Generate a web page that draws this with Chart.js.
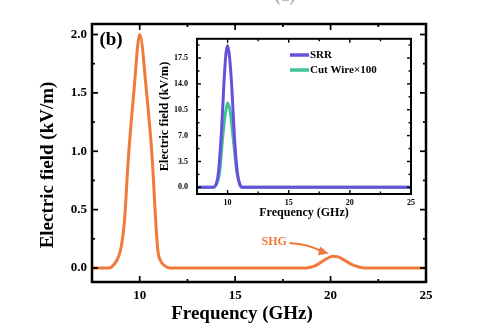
<!DOCTYPE html>
<html>
<head>
<meta charset="utf-8">
<script src="https://cdn.jsdelivr.net/npm/chart.js@4.4.0/dist/chart.umd.min.js"></script>
<style>
body{margin:0;background:#fff}
#wrap{position:relative;width:478px;height:323px;overflow:hidden;background:#fff}
#mainChart{position:absolute;left:0;top:0}
#insetChart{position:absolute;left:150px;top:25px}
</style>
</head>
<body>
<div id="wrap">
<canvas id="mainChart" width="478" height="323"></canvas>
<canvas id="insetChart" width="270" height="200"></canvas>
</div>
<script>
// main panel (b) : field vs frequency
const mainFreq  = [7.5, 8.4, 8.65, 8.9, 9.05, 9.2, 9.4, 9.7, 10.0, 10.35, 10.65, 10.85, 10.95, 11.1, 11.3, 11.6, 18.6, 18.9, 19.2, 19.5, 19.8, 20.1, 20.4, 20.7, 21.0, 21.3, 21.6, 21.9, 25];
const mainField = [0, 0, 0.03, 0.1, 0.2, 0.4, 0.93, 1.52, 2.0, 1.52, 0.95, 0.37, 0.15, 0.06, 0.02, 0, 0, 0.005, 0.02, 0.05, 0.08, 0.1, 0.095, 0.07, 0.04, 0.018, 0.005, 0, 0];

// inset : SRR and cut wire (x100)
const srrFreq  = [7.5, 8.8, 9.0, 9.25, 9.5, 9.7, 9.85, 10.0, 10.15, 10.33, 10.55, 10.8, 11.0, 11.2, 25];
const srrField = [0, 0, 0.2, 2.0, 7.5, 14.0, 17.8, 19.2, 17.8, 14.0, 7.1, 2.0, 0.4, 0, 0];
const cwFreq   = [7.5, 8.8, 9.0, 9.35, 9.62, 9.85, 10.0, 10.2, 10.43, 10.76, 11.0, 11.2, 25];
const cwField  = [0, 0, 0.2, 2.0, 7.1, 10.3, 11.4, 10.4, 7.1, 2.0, 0.4, 0, 0];

// ticks
const mainXTicks  = [10, 15, 20, 25];
const mainXMinor  = [12.5, 17.5, 22.5];
const mainYTicks  = [0, 0.5, 1.0, 1.5, 2.0];
const mainYMinor  = [0.25, 0.75, 1.25, 1.75];
const insetXTicks = [10, 15, 20, 25];
const insetXMinor = [12.5, 17.5, 22.5];
const insetYTicks = [0, 3.5, 7.0, 10.5, 14.0, 17.5];
const insetYMinor = [1.75, 5.25, 8.75, 12.25, 15.75, 19.25];

const serif = "'Liberation Serif', 'Times New Roman', serif";
const orange = '#ef7a3b';
const purple = '#6b4fdc';
const green  = '#3cc493';

function pts(xs, ys){ return xs.map((x, i) => ({x: x, y: ys[i]})); }

// frame + inward ticks on the 4 sides
function frameTicks(id, xMaj, xMin, yMaj, yMin, bigLen, smallLen, lw){
  return {
    id: id,
    beforeDatasetsDraw(chart){
      const a = chart.chartArea, ctx = chart.ctx;
      ctx.save();
      ctx.fillStyle = '#fff';
      ctx.fillRect(a.left, a.top, a.right - a.left, a.bottom - a.top);
      ctx.restore();
    },
    afterDatasetsDraw(chart){
      const ctx = chart.ctx, a = chart.chartArea;
      const xs = chart.scales.x, ys = chart.scales.y;
      ctx.save();
      ctx.strokeStyle = '#000';
      const line = (x1, y1, x2, y2) => { ctx.beginPath(); ctx.moveTo(x1, y1); ctx.lineTo(x2, y2); ctx.stroke(); };
      ctx.lineWidth = lw * 0.7;
      const doX = (vals, len) => vals.forEach(v => {
        const p = xs.getPixelForValue(v);
        line(p, a.bottom, p, a.bottom - len);
        line(p, a.top, p, a.top + len);
      });
      const doY = (vals, len) => vals.forEach(v => {
        const p = ys.getPixelForValue(v);
        line(a.left, p, a.left + len, p);
        line(a.right, p, a.right - len, p);
      });
      doX(xMaj, bigLen); doX(xMin, smallLen);
      doY(yMaj, bigLen); doY(yMin, smallLen);
      ctx.lineWidth = lw;
      ctx.strokeRect(a.left, a.top, a.right - a.left, a.bottom - a.top);
      ctx.restore();
    }
  };
}

// SHG label, arrow and panel letter
const shgLabel = {x: 17.05, y: 0.22};
const shgFrom  = {x: 17.85, y: 0.215};
const shgTip   = {x: 19.9, y: 0.125};

const mainNotes = {
  id: 'mainNotes',
  afterDraw(chart){
    const ctx = chart.ctx, a = chart.chartArea;
    const xs = chart.scales.x, ys = chart.scales.y;
    ctx.save();
    ctx.fillStyle = '#000';
    ctx.textAlign = 'center';
    ctx.textBaseline = 'middle';

    // axis titles (sit a little off the plot centre in the original)
    ctx.font = 'bold 19px ' + serif;
    ctx.fillText('Frequency (GHz)', 242, 314);
    ctx.save();
    ctx.translate(48, 165);
    ctx.rotate(-Math.PI / 2);
    ctx.fillText('Electric field (kV/m)', 0, 0);
    ctx.restore();

    ctx.font = 'bold 19px ' + serif;
    ctx.fillText('(b)', a.left + 19, a.top + 16);

    ctx.fillStyle = '#b5b5b5';
    ctx.font = 'bold 18px ' + serif;
    ctx.fillText('(a)', 285, -4);

    ctx.fillStyle = orange;
    ctx.font = 'bold 12px ' + serif;
    ctx.fillText('SHG', xs.getPixelForValue(shgLabel.x), ys.getPixelForValue(shgLabel.y));

    const x1 = xs.getPixelForValue(shgFrom.x), y1 = ys.getPixelForValue(shgFrom.y);
    const x2 = xs.getPixelForValue(shgTip.x),  y2 = ys.getPixelForValue(shgTip.y);
    const ang = Math.atan2(y2 - y1, x2 - x1);
    ctx.strokeStyle = orange;
    ctx.lineWidth = 2;
    ctx.beginPath();
    ctx.moveTo(x1, y1);
    ctx.quadraticCurveTo((x1 + x2) / 2, y1 + 1, x2 - 6 * Math.cos(ang), y2 - 6 * Math.sin(ang));
    ctx.stroke();
    ctx.beginPath();
    ctx.moveTo(x2, y2);
    ctx.lineTo(x2 - 10 * Math.cos(ang) + 4.5 * Math.sin(ang), y2 - 10 * Math.sin(ang) - 4.5 * Math.cos(ang));
    ctx.lineTo(x2 - 10 * Math.cos(ang) - 4.5 * Math.sin(ang), y2 - 10 * Math.sin(ang) + 4.5 * Math.cos(ang));
    ctx.closePath();
    ctx.fill();
    ctx.restore();
  }
};

const insetLegend = {
  id: 'insetLegend',
  afterDraw(chart){
    const ctx = chart.ctx;
    const items = [[purple, 'SRR'], [green, 'Cut Wire\u00d7100']];
    ctx.save();
    ctx.font = 'bold 11px ' + serif;
    ctx.textBaseline = 'middle';
    ctx.textAlign = 'left';
    items.forEach((it, i) => {
      const y = 30 + i * 15;
      ctx.strokeStyle = it[0];
      ctx.lineWidth = 3.5;
      ctx.beginPath(); ctx.moveTo(140, y); ctx.lineTo(159, y); ctx.stroke();
      ctx.fillStyle = '#000';
      ctx.fillText(it[1], 160, y + 0.5);
    });
    ctx.restore();
  }
};

new Chart('mainChart', {
  type: 'line',
  data: {
    datasets: [{
      data: pts(mainFreq, mainField),
      borderColor: orange,
      borderWidth: 3,
      pointRadius: 0,
      cubicInterpolationMode: 'monotone'
    }]
  },
  options: {
    responsive: false,
    animation: false,
    layout: {padding: {top: 24, right: 52, left: 0, bottom: 0}},
    plugins: {legend: {display: false}, tooltip: {enabled: false}},
    scales: {
      x: {
        type: 'linear', min: 7.5, max: 25,
        afterBuildTicks: s => { s.ticks = mainXTicks.map(v => ({value: v})); },
        afterFit: s => { s.height = 41; },
        grid: {display: false, drawTicks: false},
        border: {display: false},
        ticks: {color: '#000', font: {family: serif, size: 13, weight: 'bold'}, padding: 6, maxRotation: 0}
      },
      y: {
        min: -0.12, max: 2.09,
        afterBuildTicks: s => { s.ticks = mainYTicks.map(v => ({value: v})); },
        afterFit: s => { s.width = 92; },
        grid: {display: false, drawTicks: false},
        border: {display: false},
        ticks: {color: '#000', font: {family: serif, size: 13, weight: 'bold'}, padding: 5,
                callback: v => v.toFixed(1)}
      }
    }
  },
  plugins: [frameTicks('mainFrame', mainXTicks, mainXMinor, mainYTicks, mainYMinor, 6, 3, 2.5), mainNotes]
});

new Chart('insetChart', {
  type: 'line',
  data: {
    datasets: [{
      label: 'SRR',
      data: pts(srrFreq, srrField),
      borderColor: purple,
      borderWidth: 3,
      pointRadius: 0,
      cubicInterpolationMode: 'monotone'
    }, {
      label: 'Cut Wire\u00d7100',
      data: pts(cwFreq, cwField),
      borderColor: green,
      borderWidth: 3,
      pointRadius: 0,
      cubicInterpolationMode: 'monotone'
    }]
  },
  options: {
    responsive: false,
    animation: false,
    layout: {padding: {top: 6, right: 9, left: 0, bottom: 0}},
    plugins: {legend: {display: false}, tooltip: {enabled: false}},
    scales: {
      x: {
        type: 'linear', min: 7.5, max: 25,
        afterBuildTicks: s => { s.ticks = insetXTicks.map(v => ({value: v})); },
        afterFit: s => { s.height = 31; },
        grid: {display: false, drawTicks: false},
        border: {display: false},
        ticks: {color: '#000', font: {family: serif, size: 8, weight: 'bold'}, padding: 4, maxRotation: 0},
        title: {display: true, text: 'Frequency (GHz)', color: '#000',
                font: {family: serif, size: 12, weight: 'bold', lineHeight: 1}, padding: {top: 0, bottom: 6}}
      },
      y: {
        min: -0.9, max: 20.1,
        afterBuildTicks: s => { s.ticks = insetYTicks.map(v => ({value: v})); },
        afterFit: s => { s.width = 47; },
        grid: {display: false, drawTicks: false},
        border: {display: false},
        ticks: {color: '#000', font: {family: serif, size: 8, weight: 'bold'}, padding: 9,
                callback: v => v.toFixed(1)},
        title: {display: true, text: 'Electric field (kV/m)', color: '#000',
                font: {family: serif, size: 12.5, weight: 'bold', lineHeight: 1}, padding: {top: 9, bottom: 0}}
      }
    }
  },
  plugins: [frameTicks('insetFrame', insetXTicks, insetXMinor, insetYTicks, insetYMinor, 4, 2.5, 2), insetLegend]
});
</script>
</body>
</html>
